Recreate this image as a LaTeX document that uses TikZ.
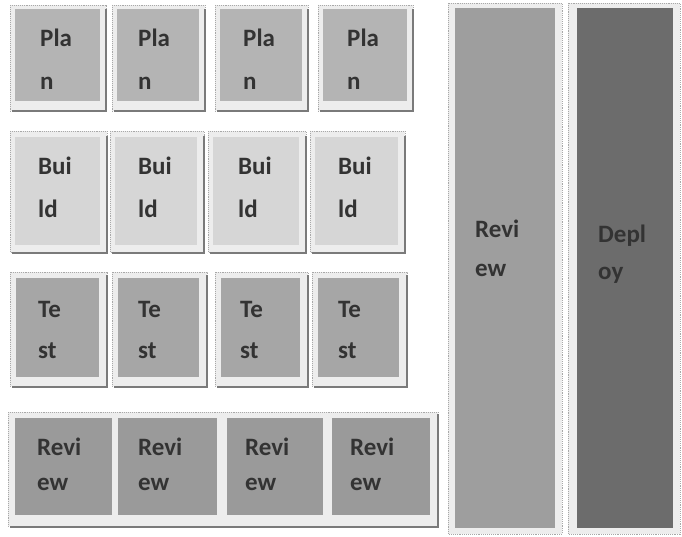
\documentclass[tikz,border=0pt]{standalone}
\usepackage{fontspec}
\setmainfont{Carlito}
\newcommand\cellText[3]{\fontsize{25}{#1}\selectfont\bfseries\begin{tabular}[t]{@{}l@{}}#2\\#3\end{tabular}}
\definecolor{frameC}{HTML}{EDEDED}
\definecolor{dotC}{HTML}{A8A8A8}
\definecolor{shadC}{HTML}{7A7A7A}
\definecolor{planC}{HTML}{B4B4B4}
\definecolor{buildC}{HTML}{D6D6D6}
\definecolor{testC}{HTML}{A6A6A6}
\definecolor{revC}{HTML}{9A9A9A}
\definecolor{revColC}{HTML}{9E9E9E}
\definecolor{depC}{HTML}{6C6C6C}
\begin{document}
\begin{tikzpicture}[x=1pt,y=-1pt,
  outerbox/.style={draw=dotC, densely dotted, line width=0.9pt, fill=frameC, rectangle, inner sep=0pt},
  innerbox/.style={draw=none, rectangle, inner sep=0pt},
  shadowline/.style={draw=shadC, line width=2.2pt},
  lbl/.style={anchor=base west, inner sep=0pt, text=black!80}
]
\useasboundingbox (0,0) rectangle (682,537);
\fill[white] (0,0) rectangle (682,537);

% ---------- Plan row ----------
\foreach \i/\ox/\ow/\tx in {1/10/96/40, 2/112/93/138, 3/215/93/243, 4/318/95/347}{
  \path[outerbox] (\ox,5) rectangle ++(\ow,106);
  \draw[shadowline] (\ox+2,111) -- ++(\ow-2,0) -- ++(0,-102);
  \node[innerbox, fill=planC, anchor=north west, minimum width=\ow-11, minimum height=92] (plan\i) at (\ox+5,9) {};
  \node[lbl] (plant\i) at (\tx,47) {\cellText{43}{Pla}{n}};
}

% ---------- Build row ----------
\foreach \i/\ox/\ow/\tx in {1/10/97/38, 2/110/94/138, 3/208/98/238, 4/310/95/338}{
  \path[outerbox] (\ox,131) rectangle ++(\ow,121);
  \draw[shadowline] (\ox+2,253) -- ++(\ow-2,0) -- ++(0,-117);
  \node[innerbox, fill=buildC, anchor=north west, minimum width=\ow-12, minimum height=108] (build\i) at (\ox+5,137) {};
  \node[lbl] (buildt\i) at (\tx,175) {\cellText{43}{Bui}{ld}};
}

% ---------- Test row ----------
\foreach \i/\ox/\ow/\tx in {1/10/97/38, 2/112/95/138, 3/215/93/240, 4/312/95/338}{
  \path[outerbox] (\ox,272) rectangle ++(\ow,114);
  \draw[shadowline] (\ox+2,387) -- ++(\ow-2,0) -- ++(0,-112);
  \node[innerbox, fill=testC, anchor=north west, minimum width=\ow-14, minimum height=99] (test\i) at (\ox+6,278) {};
  \node[lbl] (testt\i) at (\tx,317) {\cellText{41}{Te}{st}};
}

% ---------- Review row ----------
\path[outerbox] (8,412) rectangle (438,526);
\draw[shadowline] (10,527) -- (438,527) -- (438,414);
\foreach \i/\ix/\iw/\tx in {1/15/97/37, 2/118/99/138, 3/227/96/245, 4/332/98/350}{
  \node[innerbox, fill=revC, anchor=north west, minimum width=\iw, minimum height=97] (rev\i) at (\ix,418) {};
  \node[lbl] (revt\i) at (\tx,455) {\cellText{35}{Revi}{ew}};
}

% ---------- Review column ----------
\path[outerbox] (448,3) rectangle (562,534);
\node[innerbox, fill=revColC, anchor=north west, minimum width=100, minimum height=520] (revcol) at (455,8) {};
\node[lbl] (revcolt) at (475,238) {\cellText{39}{Revi}{ew}};

% ---------- Deploy column ----------
\path[outerbox] (568,3) rectangle (680,534);
\node[innerbox, fill=depC, anchor=north west, minimum width=96, minimum height=520] (depcol) at (577,8) {};
\node[lbl] (depcolt) at (598,243) {\cellText{37}{Depl}{oy}};
\end{tikzpicture}
\end{document}
